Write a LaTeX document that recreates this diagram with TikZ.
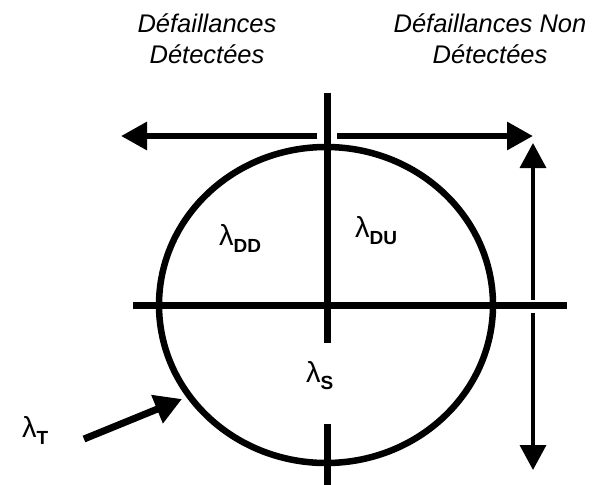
\documentclass[tikz,border=0pt]{standalone}
\usepackage{fontspec}
\setmainfont{Liberation Sans}
\usetikzlibrary{arrows.meta,shapes.geometric}
\newcommand\lamlab[1]{{\fontsize{29}{29}\selectfont λ}\raisebox{-7pt}{\fontsize{19}{19}\selectfont\bfseries #1}}
\begin{document}
\begin{tikzpicture}[x=1pt,y=-1pt,
  thick line/.style={line width=7pt,black},
  bigarrow/.style={line width=6pt,-{Triangle[length=26pt,width=27pt]}},
  thinarrow/.style={line width=3.5pt,-{Triangle[length=25pt,width=26pt]}},
  heading/.style={font=\fontsize{25.5}{31}\selectfont\itshape,align=center,inner sep=0pt,anchor=base},
  lab/.style={inner sep=0pt,anchor=base west}]
\useasboundingbox (0,0) rectangle (598,485);
% ellipse
\node[ellipse,draw,line width=6.5pt,minimum width=334pt,minimum height=316pt,inner sep=0pt] (ell) at (326,305) {};
% cross lines
\coordinate (vtop) at (327,93);
\coordinate (vbot) at (327,343);
\coordinate (stop) at (327,424);
\coordinate (sbot) at (327,490);
\coordinate (hl) at (133,305);
\coordinate (hr) at (567,305);
\draw[thick line] (vtop) -- (vbot);
\draw[thick line] (stop) -- (sbot);
\draw[thick line] (hl) -- (hr);
% horizontal arrows
\coordinate (la0) at (317,136);
\coordinate (la1) at (121,136);
\coordinate (ra0) at (337,136);
\coordinate (ra1) at (533,136);
\draw[bigarrow] (la0) -- (la1);
\draw[bigarrow] (ra0) -- (ra1);
% vertical arrows
\coordinate (ua0) at (533,300);
\coordinate (ua1) at (533,143);
\coordinate (da0) at (533,313);
\coordinate (da1) at (533,470);
\draw[thinarrow] (ua0) -- (ua1);
\draw[thinarrow] (da0) -- (da1);
% lambda T arrow
\coordinate (ta0) at (84,439);
\coordinate (ta1) at (182,399);
\draw[line width=7pt,-{Triangle[length=27pt,width=29pt]}] (ta0) -- (ta1);
% labels
\node[lab] (ldd) at (219,245) {\lamlab{DD}};
\node[lab] (ldu) at (355,237) {\lamlab{DU}};
\node[lab] (ls) at (306,382) {\lamlab{S}};
\node[lab] (lt) at (22,437) {\lamlab{T}};
% headings
\node[heading] (h1) at (207,63) {Défaillances\\Détectées};
\node[heading] (h2) at (490,63) {Défaillances Non\\Détectées};
\end{tikzpicture}
\end{document}
